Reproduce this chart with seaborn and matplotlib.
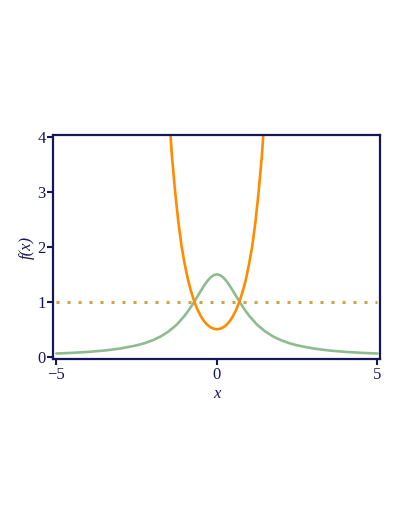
import numpy as np
import pandas as pd
import matplotlib
matplotlib.use("Agg")
import matplotlib.pyplot as plt
import seaborn as sns

# values
green_x = [-5, -4.5, -4, -3.5, -3, -2.5, -2.25, -2, -1.75, -1.5, -1.25,
           -1, -0.9, -0.8, -0.7, -0.6, -0.5, -0.4, -0.3, -0.2, -0.1,
           0, 0.1, 0.2, 0.3, 0.4, 0.5, 0.6, 0.7, 0.8, 0.9, 1,
           1.25, 1.5, 1.75, 2, 2.25, 2.5, 3, 3.5, 4, 4.5, 5]
green_y = [0.058, 0.071, 0.088, 0.113, 0.15, 0.207, 0.247, 0.3, 0.369, 0.462, 0.585,
           0.75, 0.829, 0.915, 1.007, 1.103, 1.2, 1.293, 1.376, 1.442, 1.485,
           1.5, 1.485, 1.442, 1.376, 1.293, 1.2, 1.103, 1.007, 0.915, 0.829, 0.75,
           0.585, 0.462, 0.369, 0.3, 0.247, 0.207, 0.15, 0.113, 0.088, 0.071, 0.058]

orange_x = [-1.5, -1.4, -1.3, -1.2, -1.1, -1.0, -0.9, -0.8, -0.7, -0.6, -0.5, -0.4, -0.3, -0.2, -0.1,
            0, 0.1, 0.2, 0.3, 0.4, 0.5, 0.6, 0.7, 0.8, 0.9, 1.0, 1.1, 1.2, 1.3, 1.4, 1.5]
orange_y = [4.5, 3.65, 3.0, 2.45, 2.01, 1.68, 1.40, 1.18, 1.0, 0.853, 0.738, 0.648, 0.582, 0.536, 0.509,
            0.5, 0.509, 0.536, 0.582, 0.648, 0.738, 0.853, 1.0, 1.18, 1.40, 1.68, 2.01, 2.45, 3.0, 3.65, 4.5]

level_x = [-5, 5]
level_y = [1, 1]

x_ticks = [-5, 0, 5]
y_ticks = [0, 1, 2, 3, 4]

navy = "#16165c"

sns.set_style("white")
plt.rcParams['font.family'] = ['Liberation Serif', 'DejaVu Serif']

fig = plt.figure(figsize=(4.09, 5.29), dpi=100)
ax = fig.add_axes([0.130, 0.321, 0.799, 0.424])

sns.lineplot(x=level_x, y=level_y, ax=ax, color="#c8a64a", linewidth=2.2,
             linestyle=(0, (1, 2.6)), dash_capstyle="butt")
sns.lineplot(x=green_x, y=green_y, ax=ax, color="#8fbc8f", linewidth=1.9, sort=False)
sns.lineplot(x=orange_x, y=orange_y, ax=ax, color="#ff8c00", linewidth=1.9, sort=False)

ax.set_xlim(-5.1, 5.08)
ax.set_ylim(-0.045, 4.04)
ax.set_xticks(x_ticks)
ax.set_xticklabels(["\u22125", "0", "5"])
ax.set_yticks(y_ticks)

for s in ax.spines.values():
    s.set_color(navy)
    s.set_linewidth(1.6)
ax.tick_params(axis="both", direction="out", length=4, width=1.5, color=navy,
               labelcolor=navy, labelsize=12, pad=1.5)
ax.tick_params(left=True, bottom=True)

ax.set_xlabel("x", fontstyle="italic", color=navy, fontsize=12, labelpad=2)
ax.set_ylabel("f(x)", fontstyle="italic", color=navy, fontsize=12, labelpad=2)

fig.savefig("out.png", dpi=100)
